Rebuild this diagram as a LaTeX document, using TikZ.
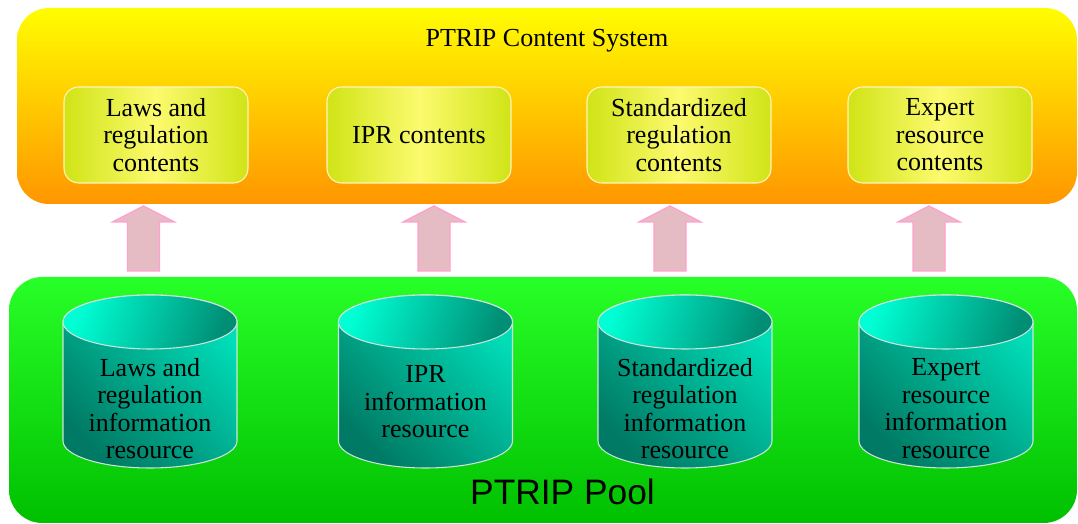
\documentclass[tikz,border=0pt]{standalone}
\usepackage{fontspec}
\setmainfont{Liberation Serif}
\newfontfamily\poolfont{Liberation Sans}
\definecolor{SysYellow}{RGB}{255,253,0}
\definecolor{SysMid}{RGB}{255,210,0}
\definecolor{SysOrange}{RGB}{255,150,0}
\definecolor{PoolLight}{RGB}{40,255,40}
\definecolor{PoolDark}{RGB}{0,192,0}
\definecolor{BoxEdge}{RGB}{208,228,22}
\definecolor{BoxMid}{RGB}{252,250,110}
\definecolor{BoxLine}{RGB}{255,244,190}
\definecolor{CylLight}{RGB}{0,255,212}
\definecolor{CylDark}{RGB}{0,122,100}
\definecolor{CylLine}{RGB}{205,228,220}
\definecolor{ArrowFill}{RGB}{230,188,196}
\definecolor{ArrowLine}{RGB}{255,160,205}
\usetikzlibrary{positioning}

\begin{document}
\begin{tikzpicture}[x=0.75pt,y=0.75pt,
  textfont/.style={font=\fontsize{19.5}{20.6}\selectfont},
  contentbox/.style={textfont,rounded corners=11pt,draw=BoxLine,line width=0.8pt,
    left color=BoxEdge,right color=BoxEdge,middle color=BoxMid,
    minimum width=138pt,minimum height=72pt,align=center},
  cyltext/.style={textfont,align=center},
  uparrow/.style={fill=ArrowFill,draw=ArrowLine,line width=1pt}]
\useasboundingbox[fill=white] (0,0) rectangle (1078,524);
% the two panels
\shade[top color=SysYellow,middle color=SysMid,bottom color=SysOrange,rounded corners=24pt]
  (17,320) rectangle (1077,516);
\shade[top color=PoolLight,bottom color=PoolDark,rounded corners=25pt]
  (9,1) rectangle (1077,247);
\node[textfont] (system) at (547,483) {PTRIP Content System};
\node[font=\poolfont\fontsize{26.5}{28}\selectfont] (pool) at (562.5,32) {PTRIP Pool};
% contents
\node[contentbox] (lawscont) at (156,389) {Laws and\\regulation\\contents};
\node[contentbox] (iprcont) at (419,389) {IPR contents};
\node[contentbox] (stdcont) at (679,389) {Standardized\\regulation\\contents};
\node[contentbox] (expcont) at (940,389) {Expert\\resource\\contents};
% arrows up
\foreach \ax in {143.5,434,670,929}
  \filldraw[uparrow] (\ax-16,253) -- (\ax-16,302) -- (\ax-31,302) -- (\ax,318)
    -- (\ax+31,302) -- (\ax+16,302) -- (\ax+16,253) -- cycle;
% resources
\foreach \cx/\ty/\name/\txt in {150/115.5/lawsres/{Laws and\\regulation\\information\\resource},
    425.5/122/iprres/{IPR\\information\\resource},
    685/115.5/stdres/{Standardized\\regulation\\information\\resource},
    946/115.5/expres/{Expert\\resource\\information\\resource}}
{
  \shadedraw[draw=CylLine,line width=0.8pt,left color=CylDark,middle color=CylLight,
    right color=CylLight!75!CylDark,shading angle=135]
    (\cx-87,202) -- (\cx-87,83) arc[start angle=180,end angle=360,x radius=65.25pt,y radius=20.25pt]
    -- (\cx+87,202) arc[start angle=0,end angle=180,x radius=65.25pt,y radius=20.25pt] -- cycle;
  \shadedraw[draw=CylLine,line width=0.8pt,left color=CylLight,right color=CylDark!85!CylLight,
    shading angle=70] (\cx,202) ellipse[x radius=65.25pt,y radius=20.25pt];
  \node[cyltext] (\name) at (\cx,\ty) {\txt};
}
\end{tikzpicture}
\end{document}
